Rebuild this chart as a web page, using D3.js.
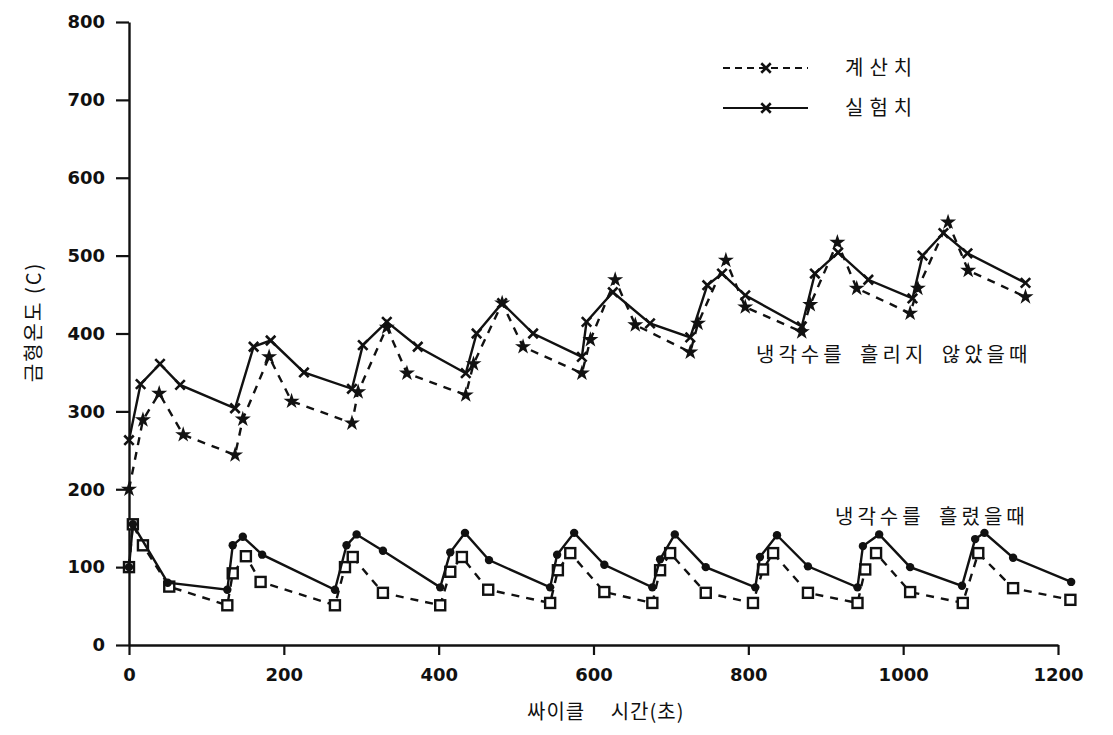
<!DOCTYPE html>
<html>
<head>
<meta charset="utf-8">
<script src="https://cdn.jsdelivr.net/npm/d3@7"></script>
<style>
  body { margin: 0; background: #fff; }
  .tick text { font-family: "DejaVu Sans", sans-serif; font-size: 18px; font-weight: bold; fill: #111; }
  .kr { font-family: "Noto Sans CJK KR", sans-serif; fill: #111; }
</style>
</head>
<body>
<div id="chart"></div>
<script>
// upper group: 냉각수를 흘리지 않았을때
var upperExpTime = [0, 15, 40, 66, 137, 161, 183, 226, 288, 302, 333, 373, 435, 449, 482, 522, 585, 591, 625, 673, 725, 747, 766, 796, 869, 886, 916, 955, 1012, 1025, 1052, 1083, 1158];
var upperExpTemp = [263, 335, 361, 334, 304, 383, 391, 350, 329, 385, 415, 383, 349, 400, 439, 400, 370, 415, 453, 413, 395, 462, 477, 449, 409, 477, 504, 469, 445, 500, 529, 503, 465];
var upperCalcTime = [0, 18, 39, 70, 137, 147, 181, 210, 288, 296, 333, 359, 435, 445, 482, 509, 585, 596, 628, 654, 725, 735, 771, 796, 869, 880, 915, 940, 1009, 1019, 1058, 1084, 1158];
var upperCalcTemp = [200, 289, 323, 270, 244, 290, 370, 313, 285, 325, 408, 349, 321, 361, 439, 383, 349, 392, 469, 411, 376, 413, 494, 434, 402, 437, 517, 458, 426, 458, 543, 481, 447];

// lower group: 냉각수를 흘렸을때
var lowerExpTime = [0, 5, 50, 127, 134, 147, 172, 266, 281, 294, 328, 402, 415, 434, 465, 544, 553, 575, 614, 676, 686, 705, 745, 809, 815, 837, 877, 941, 948, 969, 1009, 1076, 1093, 1105, 1142, 1217];
var lowerExpTemp = [100, 155, 80, 71, 128, 139, 116, 71, 128, 142, 121, 74, 119, 144, 109, 74, 116, 144, 103, 74, 110, 142, 100, 74, 113, 141, 101, 74, 127, 142, 100, 76, 136, 144, 112, 81];
var lowerCalcTime = [0, 5, 18, 52, 127, 134, 151, 170, 266, 279, 289, 328, 402, 415, 430, 464, 544, 554, 570, 614, 676, 686, 699, 745, 806, 819, 832, 877, 941, 951, 965, 1009, 1077, 1097, 1142, 1216];
var lowerCalcTemp = [100, 155, 128, 75, 51, 92, 114, 81, 51, 100, 113, 67, 51, 94, 113, 71, 54, 96, 118, 68, 54, 96, 118, 67, 54, 97, 118, 67, 54, 97, 118, 68, 54, 118, 73, 58];

var xTicks = [0, 200, 400, 600, 800, 1000, 1200];
var yTicks = [0, 100, 200, 300, 400, 500, 600, 700, 800];

var width = 1113, height = 735;
var margin = {top: 22, right: 55, bottom: 90, left: 129};

var svg = d3.select('#chart').append('svg')
    .attr('width', width)
    .attr('height', height);

var x = d3.scaleLinear().domain([0, 1200]).range([margin.left, width - margin.right]);
var y = d3.scaleLinear().domain([0, 800]).range([height - margin.bottom, margin.top]);

// axes
var xAxis = svg.append('g')
    .attr('transform', 'translate(0,' + y(0) + ')')
    .call(d3.axisBottom(x).tickValues(xTicks).tickFormat(d3.format('d'))
        .tickSize(10).tickPadding(13).tickSizeOuter(0));
var yAxis = svg.append('g')
    .attr('transform', 'translate(' + x(0) + ',0)')
    .call(d3.axisLeft(y).tickValues(yTicks).tickFormat(d3.format('d'))
        .tickSize(13).tickPadding(11).tickSizeOuter(0));
[xAxis, yAxis].forEach(function(a) {
    a.select('.domain').attr('stroke', '#111').attr('stroke-width', 2.4);
    a.selectAll('.tick line').attr('stroke', '#111').attr('stroke-width', 2.2);
});

function zip(ts, vs) {
    return ts.map(function(t, i) { return [t, vs[i]]; });
}

var line = d3.line()
    .x(function(d) { return x(d[0]); })
    .y(function(d) { return y(d[1]); });

function drawSeries(pts, dashed, marker) {
    var g = svg.append('g');
    g.append('path')
        .datum(pts)
        .attr('fill', 'none')
        .attr('stroke', '#111')
        .attr('stroke-width', 2.4)
        .attr('stroke-dasharray', dashed ? '8,7' : null)
        .attr('d', line);
    drawMarkers(g, pts.map(function(d) { return [x(d[0]), y(d[1])]; }), marker);
}

function drawMarkers(g, pix, marker) {
    var m = g.selectAll('.m').data(pix).enter();
    if (marker === 'x') {
        m.append('path')
            .attr('d', d3.symbol().type(d3.symbolX).size(60))
            .attr('transform', function(d) { return 'translate(' + d[0] + ',' + d[1] + ')'; })
            .attr('fill', 'none').attr('stroke', '#111').attr('stroke-width', 2.6);
    } else if (marker === 'star') {
        m.append('path')
            .attr('d', d3.symbol().type(d3.symbolStar).size(80))
            .attr('transform', function(d) { return 'translate(' + d[0] + ',' + d[1] + ')'; })
            .attr('fill', '#111');
    } else if (marker === 'dot') {
        m.append('circle')
            .attr('cx', function(d) { return d[0]; })
            .attr('cy', function(d) { return d[1]; })
            .attr('r', 4.2).attr('fill', '#111');
    } else if (marker === 'square') {
        m.append('rect')
            .attr('x', function(d) { return d[0] - 5; })
            .attr('y', function(d) { return d[1] - 5; })
            .attr('width', 10).attr('height', 10)
            .attr('fill', '#fff').attr('stroke', '#111').attr('stroke-width', 2.4);
    }
}

drawSeries(zip(upperCalcTime, upperCalcTemp), true, 'star');
drawSeries(zip(upperExpTime, upperExpTemp), false, 'x');
drawSeries(zip(lowerCalcTime, lowerCalcTemp), true, 'square');
drawSeries(zip(lowerExpTime, lowerExpTemp), false, 'dot');

// legend
var legendItems = [
    {label: '계산치', dashed: true, y: 68},
    {label: '실험치', dashed: false, y: 108}
];
legendItems.forEach(function(it) {
    var g = svg.append('g');
    g.append('line')
        .attr('x1', 723).attr('x2', 808)
        .attr('y1', it.y).attr('y2', it.y)
        .attr('stroke', '#111').attr('stroke-width', 2.2)
        .attr('stroke-dasharray', it.dashed ? '7,5' : null);
    drawMarkers(g, [[766, it.y]], 'x');
    g.append('text').attr('class', 'kr')
        .attr('x', 845).attr('y', it.y + 7)
        .attr('font-size', 20)
        .attr('letter-spacing', 6)
        .text(it.label);
});

// annotations
svg.append('text').attr('class', 'kr')
    .attr('x', 756).attr('y', 362)
    .attr('font-size', 20)
    .attr('letter-spacing', 4)
    .attr('word-spacing', 6)
    .text('냉각수를 흘리지 않았을때');
svg.append('text').attr('class', 'kr')
    .attr('x', 835).attr('y', 524)
    .attr('font-size', 20)
    .attr('letter-spacing', 4)
    .attr('word-spacing', 6)
    .text('냉각수를 흘렸을때');

// axis titles
svg.append('text').attr('class', 'kr')
    .attr('transform', 'translate(41,322) rotate(-90)')
    .attr('text-anchor', 'middle')
    .attr('font-size', 20)
    .attr('letter-spacing', 2)
    .text('금형온도 (C)');
svg.append('text').attr('class', 'kr')
    .attr('x', 527).attr('y', 719)
    .attr('font-size', 20)
    .attr('letter-spacing', 1)
    .attr('word-spacing', 20)
    .text('싸이클 시간(초)');
</script>
</body>
</html>
